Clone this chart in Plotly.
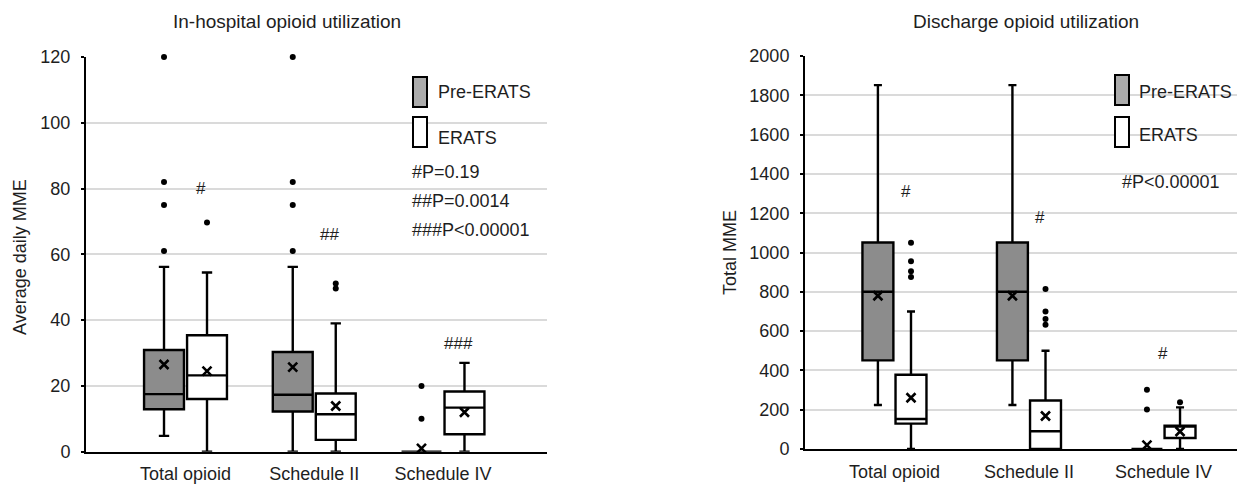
import plotly.graph_objects as go

# The page body adds an 8px offset, so the figure is drawn 8px smaller and all
# pixel positions below are given in window coordinates.
WIN_W, WIN_H, BODY = 1245, 486, 8
W, H = WIN_W - BODY, WIN_H - BODY

categories = ["Total opioid", "Schedule II", "Schedule IV"]
groups = ["Pre-ERATS", "ERATS"]

# ---------- In-hospital opioid utilization (Average daily MME) ----------
ih_pre_q1 = [12.9, 12.2, 0]
ih_pre_median = [17.5, 17.3, 0]
ih_pre_q3 = [30.9, 30.3, 0]
ih_pre_lower = [4.8, 0, 0]
ih_pre_upper = [56.2, 56.2, 0]
ih_pre_mean = [26.5, 25.7, 1.0]
ih_pre_outliers = [[61, 75, 82, 120], [61, 75, 82, 120], [10, 20]]

ih_erats_q1 = [16.0, 3.6, 5.3]
ih_erats_median = [23.2, 11.4, 13.4]
ih_erats_q3 = [35.4, 17.7, 18.3]
ih_erats_lower = [0, 0, 0]
ih_erats_upper = [54.5, 39.0, 27.0]
ih_erats_mean = [24.5, 13.9, 12.0]
ih_erats_outliers = [[69.7], [49.6, 51.1], []]

ih_sig_labels = ["#", "##", "###"]
ih_sig_y = [80, 66, 33]
ih_pvalues = ["#P=0.19", "##P=0.0014", "###P<0.00001"]

# ---------- Discharge opioid utilization (Total MME) ----------
dc_pre_q1 = [451, 451, 0]
dc_pre_median = [800, 800, 0]
dc_pre_q3 = [1051, 1051, 0]
dc_pre_lower = [224, 224, 0]
dc_pre_upper = [1852, 1852, 0]
dc_pre_mean = [780, 780, 20]
dc_pre_outliers = [[], [], [201, 301]]

dc_erats_q1 = [129, 0, 56]
dc_erats_median = [153, 90, 119]
dc_erats_q3 = [378, 247, 119]
dc_erats_lower = [0, 0, 0]
dc_erats_upper = [700, 500, 212]
dc_erats_mean = [261, 168, 89]
dc_erats_outliers = [[875, 905, 955, 1050], [632, 662, 700, 814], [238]]

dc_sig_labels = ["#", "#", "#"]
dc_sig_y = [1308, 1180, 488]
dc_pvalues = ["#P<0.00001"]

# ---------- styling ----------
FONT = "Liberation Sans, Arial, Helvetica, sans-serif"
TXT = "#1e1e1e"
PRE_FILL = "#8c8c8c"
PRE_SWATCH = "#ababab"
ERATS_FILL = "white"
GRID = "#dadada"


def px_x(p):
    return (p - BODY) / W


def px_y(p):
    return 1 - (p - BODY) / H


fig = go.Figure()


def add_panel(xa, ya, offset, width, pre, erats):
    for (q1, med, q3, lo, hi, mean, outl), sign, fill, name in (
        (pre, -1, PRE_FILL, groups[0]),
        (erats, 1, ERATS_FILL, groups[1]),
    ):
        xs = [i + sign * offset for i in range(len(categories))]
        fig.add_trace(go.Box(
            x=xs, q1=q1, median=med, q3=q3, lowerfence=lo, upperfence=hi,
            width=width, fillcolor=fill, name=name,
            line=dict(color="black", width=2.4), whiskerwidth=0.26,
            boxpoints=False, showlegend=False, xaxis=xa, yaxis=ya,
        ))
        ox, oy = [], []
        for i, vals in enumerate(outl):
            for v in vals:
                ox.append(xs[i])
                oy.append(v)
        fig.add_trace(go.Scatter(
            x=ox, y=oy, mode="markers", showlegend=False, xaxis=xa, yaxis=ya,
            cliponaxis=False,
            marker=dict(symbol="circle", size=6, color="black"),
        ))
        fig.add_trace(go.Scatter(
            x=xs, y=mean, mode="markers", showlegend=False, xaxis=xa, yaxis=ya,
            cliponaxis=False,
            marker=dict(symbol="x-thin", size=9, color="black",
                        line=dict(color="black", width=2.6)),
        ))


L_OFF, L_W = 0.167, 0.31
R_OFF, R_W = 0.123, 0.23

add_panel("x", "y", L_OFF, L_W,
          (ih_pre_q1, ih_pre_median, ih_pre_q3, ih_pre_lower, ih_pre_upper, ih_pre_mean, ih_pre_outliers),
          (ih_erats_q1, ih_erats_median, ih_erats_q3, ih_erats_lower, ih_erats_upper, ih_erats_mean, ih_erats_outliers))
add_panel("x2", "y2", R_OFF, R_W,
          (dc_pre_q1, dc_pre_median, dc_pre_q3, dc_pre_lower, dc_pre_upper, dc_pre_mean, dc_pre_outliers),
          (dc_erats_q1, dc_erats_median, dc_erats_q3, dc_erats_lower, dc_erats_upper, dc_erats_mean, dc_erats_outliers))

xcommon = dict(tickmode="array", tickvals=list(range(len(categories))), ticktext=categories,
               showgrid=False, zeroline=False, showline=True, linecolor="black", linewidth=2,
               ticks="", ticklabelstandoff=5, automargin=False,
               tickfont=dict(family=FONT, size=18, color=TXT))
ycommon = dict(showgrid=True, gridcolor=GRID, gridwidth=1.5, zeroline=False, showline=True,
               linecolor="black", linewidth=2, ticks="outside", ticklen=3, tickcolor="black",
               tickwidth=1.5, ticklabelstandoff=7, automargin=False,
               tickfont=dict(family=FONT, size=18, color=TXT))

fig.update_layout(
    width=W, height=H, margin=dict(l=0, r=0, t=0, b=0, pad=0, autoexpand=False),
    plot_bgcolor="white", paper_bgcolor="white", showlegend=False,
    xaxis=dict(domain=[px_x(86), px_x(547)], range=[-0.773, 2.808], anchor="y", **xcommon),
    yaxis=dict(domain=[px_y(451.7), px_y(57)], range=[0, 120], dtick=20, anchor="x", **ycommon),
    xaxis2=dict(domain=[px_x(805), 1.0], range=[-0.665, 2.606], anchor="y2", **xcommon),
    yaxis2=dict(domain=[px_y(449), px_y(56)], range=[0, 2000], dtick=200, anchor="x2", **ycommon),
)

shapes = []
annotations = []


def note(text, x, y, size=18, xanchor="center", angle=0, xref="paper", yref="paper"):
    annotations.append(dict(text=text, x=x, y=y, xref=xref, yref=yref, xanchor=xanchor,
                            yanchor="middle", textangle=angle, showarrow=False,
                            font=dict(family=FONT, size=size, color=TXT)))


# panel titles and axis titles
note("In-hospital opioid utilization", px_x(287), px_y(21), size=19)
note("Discharge opioid utilization", px_x(1026), px_y(21), size=19)
note("Average daily MME", px_x(20), px_y(257), angle=-90)
note("Total MME", px_x(730), px_y(253), angle=-90)

# significance markers
for i, (lab, yv) in enumerate(zip(ih_sig_labels, ih_sig_y)):
    note(lab, i + L_OFF - 0.05, yv, size=17, xref="x", yref="y")
for i, (lab, yv) in enumerate(zip(dc_sig_labels, dc_sig_y)):
    shift = -0.04 if i < 2 else -R_OFF
    note(lab, i + R_OFF + shift, yv, size=17, xref="x2", yref="y2")


def legend(box_x, text_x, pre_top, erats_top, pre_text_y, erats_text_y):
    for top, fill in ((pre_top, PRE_SWATCH), (erats_top, "white")):
        shapes.append(dict(type="rect", xref="paper", yref="paper",
                           x0=px_x(box_x), x1=px_x(box_x + 14), y0=px_y(top + 30), y1=px_y(top),
                           fillcolor=fill, line=dict(color="black", width=2)))
    for txt, ty in ((groups[0], pre_text_y), (groups[1], erats_text_y)):
        note(txt, px_x(text_x), px_y(ty), xanchor="left")


legend(413, 436, 77, 117, 92, 138)
legend(1115, 1137, 75, 117, 92, 135)

for k, txt in enumerate(ih_pvalues):
    note(txt, px_x(410), px_y(172 + 29 * k), xanchor="left")
for k, txt in enumerate(dc_pvalues):
    note(txt, px_x(1120), px_y(182), xanchor="left")

fig.update_layout(shapes=shapes, annotations=annotations)

fig.write_html("out.html")
